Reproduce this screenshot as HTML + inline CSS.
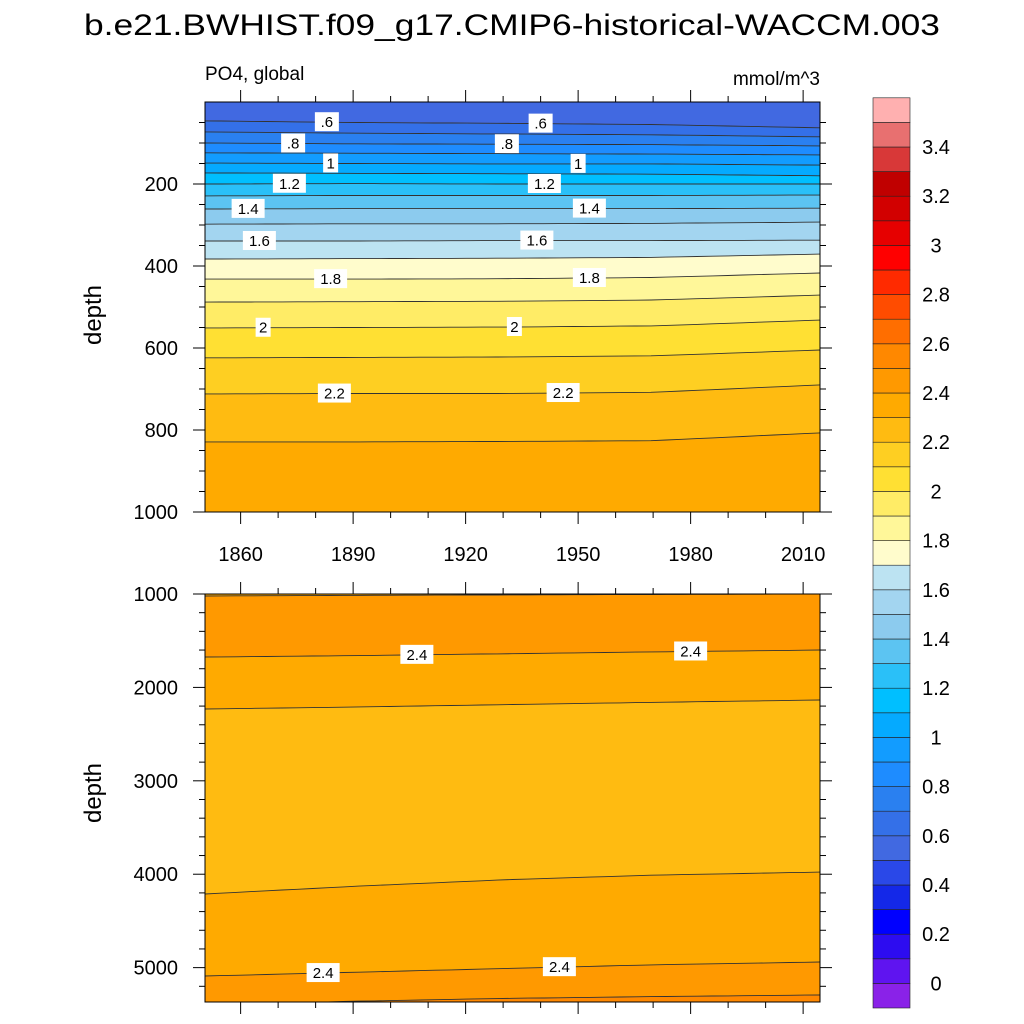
<!DOCTYPE html>
<html><head><meta charset="utf-8"><style>
html,body{margin:0;padding:0;background:#fff;}
svg{display:block;font-family:"Liberation Sans",Arial,sans-serif;}
</style></head><body>
<svg id="chart" width="1024" height="1024" viewBox="0 0 1024 1024">
<text x="512" y="35" font-size="30" text-anchor="middle" textLength="856" lengthAdjust="spacingAndGlyphs">b.e21.BWHIST.f09_g17.CMIP6-historical-WACCM.003</text>
<text x="205" y="80" font-size="19">PO4, global</text>
<text x="820" y="85" font-size="19" text-anchor="end">mmol/m^3</text>
<text transform="translate(101,315) rotate(-90)" font-size="24" text-anchor="middle">depth</text>
<text transform="translate(101,793) rotate(-90)" font-size="24" text-anchor="middle">depth</text>
<g id="top"></g>
<g id="bot"></g>
<g id="cbar"></g>
</svg>
<script>
// colour scale
const cbLevels = [0,0.1,0.2,0.3,0.4,0.5,0.6,0.7,0.8,0.9,1.0,1.1,1.2,1.3,1.4,1.5,1.6,1.7,1.8,1.9,2.0,2.1,2.2,2.3,2.4,2.5,2.6,2.7,2.8,2.9,3.0,3.1,3.2,3.3,3.4,3.5];
const cbColors = ["#8a22e8","#5f14f0","#2d0cf0","#0000ff","#1428e8","#2a48e8","#4169e1","#3470e8","#2a80f0","#1e8cff","#129cff","#05aaff","#00bfff","#2ac0f8","#5cc4f2","#8ccbee","#a3d5f0","#bce3f2","#fffccc","#fff799","#ffec66","#ffe033","#fecf22","#ffbb11","#ffaa00","#ff9900","#ff8800","#ff6e00","#ff4c00","#ff2a00","#ff0000","#e60000","#d20000","#c00000","#d83838","#e87070","#ffb0b0"];
const cbTickLabels = ["0","0.2","0.4","0.6","0.8","1","1.2","1.4","1.6","1.8","2","2.2","2.4","2.6","2.8","3","3.2","3.4"];
const cbTickValues = [0,0.2,0.4,0.6,0.8,1,1.2,1.4,1.6,1.8,2,2.2,2.4,2.6,2.8,3,3.2,3.4];

// shared x
const years = [1850.5,1890,1930,1970,2014.5];
const xTicks = [1860,1890,1920,1950,1980,2010];

// upper panel contour lines (depth in m at each year)
const topLevels = [0.6,0.7,0.8,0.9,1.0,1.1,1.2,1.3,1.4,1.5,1.6,1.7,1.8,1.9,2.0,2.1,2.2,2.3];
const topDepths = [
 [46,50,52,55,63],[73,76,78,80,85],[100,102,103,104,107],[124,125,126,127,129],
 [149,150,151,151,154],[173,174,175,176,180],[200,199,200,200,200],[229,228,228,228,227],
 [261,260,260,260,259],[298,297,297,296,293],[339,339,338,338,337],[383,382,381,379,371],
 [432,432,431,428,417],[488,487,486,483,471],[551,550,549,546,532],[624,623,622,619,605],
 [712,711,711,708,690],[829,829,828,826,807]];
const topBelowBand = [0.6,0.7,0.8,0.9,1.0,1.1,1.2,1.3,1.4,1.5,1.6,1.7,1.8,1.9,2.0,2.1,2.2,2.3];
const topBaseBand = 0.5;
const topLabelText = [".6",null,".8",null,"1",null,"1.2",null,"1.4",null,"1.6",null,"1.8",null,"2",null,"2.2",null];
const topLabelYears = [[1883,1940],null,[1874,1931],null,[1884,1950],null,[1873,1941],null,[1862,1953],null,[1865,1939],null,[1884,1953],null,[1866,1933],null,[1885,1946],null];
const topYTicks = [200,400,600,800,1000];

// lower panel contour lines
const botLevels = [2.4,2.4,2.3,2.3,2.4,2.5];
const botDepths = [
 [1021,1015,1010,1005,1000],[1675,1660,1640,1620,1600],[2231,2210,2185,2160,2135],
 [4212,4130,4060,4010,3977],[5090,5050,5010,4970,4940],[5400,5360,5330,5310,5293]];
const botBelowBand = [2.4,2.3,2.2,2.3,2.4,2.5];
const botBaseBand = 2.3;
const botLabelText = [null,"2.4",null,null,"2.4",null];
const botLabelYears = [null,[1907,1980],null,null,[1882,1945],null];
const botYTicks = [1000,2000,3000,4000,5000];

const NS="http://www.w3.org/2000/svg";
function mk(tag,attrs,parent){const e=document.createElementNS(NS,tag);for(const k in attrs)e.setAttribute(k,attrs[k]);parent.appendChild(e);return e;}
function bandColor(v){const i=cbLevels.findIndex(l=>Math.abs(l-v)<1e-6);return cbColors[i+1];}
const X0=205,X1=820,xMin=1850.5,xMax=2014.5;
const xs=y=>X0+(y-xMin)/(xMax-xMin)*(X1-X0);
function interp(arr,yr){for(let i=0;i<years.length-1;i++){if(yr<=years[i+1]){const t=(yr-years[i])/(years[i+1]-years[i]);return arr[i]+t*(arr[i+1]-arr[i]);}}return arr[arr.length-1];}

function panel(g,cfg){
 const ys=d=>cfg.y0+(d-cfg.dMin)/(cfg.dMax-cfg.dMin)*(cfg.y1-cfg.y0);
 const cid='clip'+cfg.id;
 const cp=mk('clipPath',{id:cid},g);mk('rect',{x:X0,y:cfg.y0,width:X1-X0,height:cfg.y1-cfg.y0},cp);
 const body=mk('g',{'clip-path':'url(#'+cid+')'},g);
 const bg=mk('rect',{x:X0,y:cfg.y0,width:X1-X0,height:cfg.y1-cfg.y0,fill:bandColor(cfg.base)},body);
 
 
 cfg.depths.forEach((arr,i)=>{
  let pts=[];
  for(let k=0;k<=40;k++){const yr=xMin+(xMax-xMin)*k/40;pts.push(xs(yr).toFixed(1)+','+ys(interp(arr,yr)).toFixed(1));}
  const poly=mk('polygon',{points:pts.join(' ')+' '+X1+','+(cfg.y1+5)+' '+X0+','+(cfg.y1+5),fill:bandColor(cfg.below[i])},body);
  
  
 });
 cfg.depths.forEach((arr,i)=>{
  let pts=[];
  for(let k=0;k<=40;k++){const yr=xMin+(xMax-xMin)*k/40;pts.push(xs(yr).toFixed(1)+','+ys(interp(arr,yr)).toFixed(1));}
  const pl=mk('polyline',{points:pts.join(' '),fill:'none',stroke:'#333','stroke-width':0.9},body);
  
  
  if(cfg.labels[i]){cfg.labelYears[i].forEach(yr=>{
   const cx=xs(yr),cy=ys(interp(arr,yr));
   const w=cfg.labels[i].length*9+6;
   const r=mk('rect',{x:cx-w/2,y:cy-10,width:w,height:19,fill:'#fff'},body);
   
   
   const t=mk('text',{x:cx,y:cy+5,'font-size':15,'text-anchor':'middle'},body);t.textContent=cfg.labels[i];
   
   
  });}
 });
 const fr=mk('rect',{x:X0,y:cfg.y0,width:X1-X0,height:cfg.y1-cfg.y0,fill:'none',stroke:'#000','stroke-width':1},g);
 
 
 // y ticks
 for(let d=cfg.dMin;d<=cfg.dMax+1e-6;d+=cfg.minor){
  if(d<cfg.dMin+1e-6&&cfg.id==='t')continue;
  const y=ys(d),maj=cfg.yTicks.some(v=>Math.abs(v-d)<1e-6),L=maj?12:6;
  mk('line',{x1:X0-L,y1:y,x2:X0,y2:y,stroke:'#000','stroke-width':1},g);
  mk('line',{x1:X1,y1:y,x2:X1+L,y2:y,stroke:'#000','stroke-width':1},g);
 }
 cfg.yTicks.forEach(v=>{const t=mk('text',{x:X0-27,y:ys(v)+7,'font-size':20,'text-anchor':'end'},g);t.textContent=String(v);
  
  });
 // x ticks
 for(let yr=1860;yr<=2010;yr+=10){
  const x=xs(yr),maj=xTicks.includes(yr),L=maj?12:6;
  mk('line',{x1:x,y1:cfg.y0-L,x2:x,y2:cfg.y0,stroke:'#000','stroke-width':1},g);
  mk('line',{x1:x,y1:cfg.y1,x2:x,y2:cfg.y1+L,stroke:'#000','stroke-width':1},g);
 }
}
panel(document.getElementById('top'),{id:'t',y0:102,y1:512,dMin:0,dMax:1000,minor:50,base:topBaseBand,depths:topDepths,below:topBelowBand,levels:topLevels,labels:topLabelText,labelYears:topLabelYears,yTicks:topYTicks});
panel(document.getElementById('bot'),{id:'b',y0:594,y1:1002,dMin:1000,dMax:5368,minor:200,base:botBaseBand,depths:botDepths,below:botBelowBand,levels:botLevels,labels:botLabelText,labelYears:botLabelYears,yTicks:botYTicks});
// x labels
const tg=document.getElementById('top');
xTicks.forEach(yr=>{const t=mk('text',{x:xs(yr),y:561,'font-size':20,'text-anchor':'middle'},tg);t.textContent=String(yr);
 
 });
// colorbar
const cb=document.getElementById('cbar');
const CB0=1008,step=24.6,cx0=873,cw=37;
cbColors.forEach((c,i)=>{
 const r=mk('rect',{x:cx0,y:CB0-(i+1)*step,width:cw,height:step,fill:c,stroke:'#222','stroke-width':0.6},cb);
 
 
});
cbTickValues.forEach((v,i)=>{
 const y=CB0-step-(v/0.1)*step;
 const t=mk('text',{x:936,y:y+7,'font-size':20,'text-anchor':'middle'},cb);t.textContent=cbTickLabels[i];
 
 
});
</script>
</body></html>
